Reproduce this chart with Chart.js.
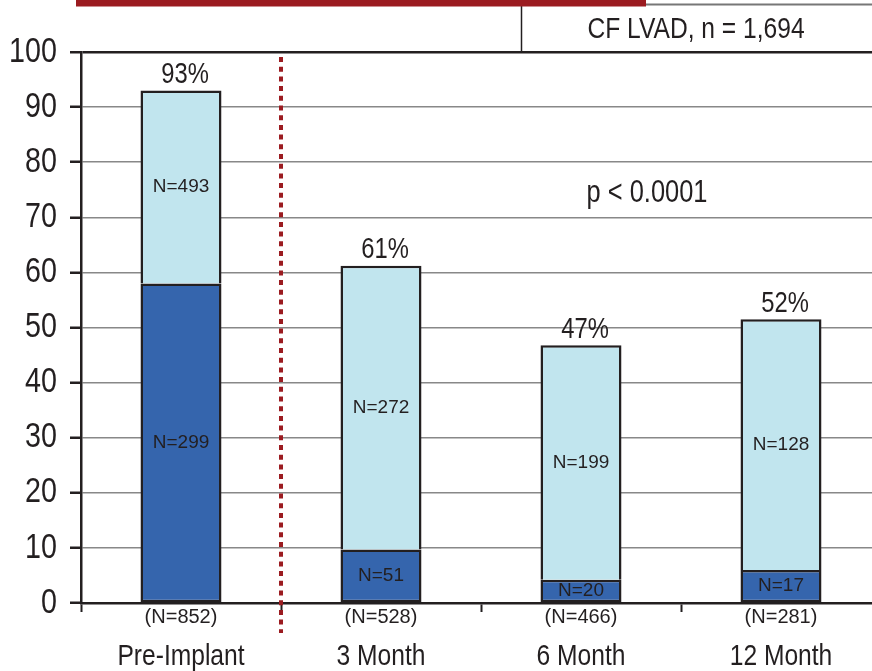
<!DOCTYPE html>
<html>
<head>
<meta charset="utf-8">
<script src="https://cdn.jsdelivr.net/npm/chart.js@4"></script>
<style>
html, body { margin: 0; padding: 0; background: #fff; overflow: hidden; }
#wrap { position: relative; width: 890px; height: 671px; }
</style>
</head>
<body>
<div id="wrap"><canvas id="chart"></canvas></div>
<script>
// Données
const categories = ["Pre-Implant", "3 Month", "6 Month", "12 Month"];
const darkVals = [58, 9.7, 4.2, 6.0];      // partie foncée (%)
const lightVals = [35, 51.5, 42.6, 45.5];  // partie claire (%)
const pctLabels = ["93%", "61%", "47%", "52%"];
const darkN = [299, 51, 20, 17];
const lightN = [493, 272, 199, 128];
const totalN = [852, 528, 466, 281];
const yTicks = [0, 10, 20, 30, 40, 50, 60, 70, 80, 90, 100];

const regular = "'Liberation Sans', Arial, sans-serif";
const ink = "#231f20";
const red = "#9b1b20";

// Pas de police étroite installée : on compresse horizontalement
function narrowText(c, text, x, y, size, align) {
    c.save();
    c.translate(x, y);
    c.scale(0.82, 1);
    c.font = size + "px " + regular;
    c.textAlign = align || "center";
    c.fillText(text, 0, 0);
    c.restore();
}

// Annotations dessinées par-dessus le graphique
const annotations = {
    id: "annotations",
    afterDraw(chart) {
        const c = chart.ctx;
        const xs = chart.scales.x;
        const ys = chart.scales.y;
        const dark = chart.getDatasetMeta(0).data;
        const light = chart.getDatasetMeta(1).data;
        c.save();

        // bandeau rouge et encadré en haut
        c.strokeStyle = "#777";
        c.lineWidth = 2;
        c.beginPath(); c.moveTo(521, 4.5); c.lineTo(890, 4.5); c.stroke();
        c.strokeStyle = ink;
        c.lineWidth = 1.5;
        c.beginPath(); c.moveTo(521.5, 4); c.lineTo(521.5, 52); c.stroke();
        c.fillStyle = red;
        c.fillRect(76, 0, 570, 6.5);
        c.fillStyle = ink;
        c.textBaseline = "middle";
        narrowText(c, "CF LVAD, n = 1,694", 696, 30, 30);

        // graduations de l'axe y
        yTicks.forEach(v => narrowText(c, String(v), 57, ys.getPixelForValue(v), 35, "right"));

        // catégories
        xs.ticks.forEach((t, i) => narrowText(c, categories[i], xs.getPixelForTick(i), 657, 30));

        // ligne pointillée entre Pre-Implant et 3 Month
        const xSep = (dark[0].x + dark[1].x) / 2;
        c.strokeStyle = red;
        c.lineWidth = 4;
        c.setLineDash([5, 4.7]);
        c.beginPath(); c.moveTo(xSep, 57); c.lineTo(xSep, 633); c.stroke();
        c.setLineDash([]);

        // pourcentages au-dessus des barres
        c.textBaseline = "bottom";
        light.forEach((el, i) => narrowText(c, pctLabels[i], el.x + 4, el.y - 1, 29));

        // N dans chaque segment
        c.font = "19px " + regular;
        c.textAlign = "center";
        c.textBaseline = "middle";
        dark.forEach((el, i) => c.fillText("N=" + darkN[i], el.x, (el.y + el.base) / 2));
        light.forEach((el, i) => c.fillText("N=" + lightN[i], el.x, (el.y + el.base) / 2));

        // N total sous l'axe
        c.font = "20px " + regular;
        dark.forEach((el, i) => c.fillText("(N=" + totalN[i] + ")", el.x, 617));

        // valeur p
        narrowText(c, "p < 0.0001", xs.getPixelForValue(2.33), ys.getPixelForValue(74.4), 31);
        c.restore();
    }
};

const ctx = document.getElementById("chart").getContext("2d");
new Chart(ctx, {
    type: "bar",
    data: {
        labels: categories,
        datasets: [
            {
                data: darkVals,
                backgroundColor: "#3565ad",
                borderColor: ink,
                borderWidth: 2.5,
                borderSkipped: false,
            },
            {
                data: lightVals,
                backgroundColor: "#c1e5ee",
                borderColor: ink,
                borderWidth: 2.5,
                borderSkipped: "start",
            },
        ],
    },
    options: {
        responsive: true,
        maintainAspectRatio: false,
        animation: false,
        layout: { padding: { top: 52, right: 9, left: 0, bottom: 0 } },
        datasets: { bar: { barPercentage: 0.405, categoryPercentage: 1 } },
        scales: {
            x: {
                stacked: true,
                grid: {
                    offset: true,
                    drawOnChartArea: false,
                    tickLength: 9,
                    tickColor: ink,
                    tickWidth: 2,
                },
                border: { color: ink, width: 2.5 },
                ticks: { display: false },
                afterFit: (s) => { s.height = 68; },
            },
            y: {
                stacked: true,
                min: 0,
                max: 100,
                afterBuildTicks: (s) => { s.ticks = yTicks.map(v => ({ value: v })); },
                grid: {
                    color: (c) => c.tick && c.tick.value === 100 ? ink : "#888",
                    lineWidth: (c) => c.tick && c.tick.value === 100 ? 2.5 : 1.5,
                    tickColor: ink,
                    tickLength: 11,
                    tickWidth: 2.5,
                },
                border: { color: ink, width: 2.5 },
                ticks: { display: false },
                afterFit: (s) => { s.width = 81; },
            },
        },
        plugins: {
            legend: { display: false },
            tooltip: { enabled: false },
        },
    },
    plugins: [annotations],
});
</script>
</body>
</html>
